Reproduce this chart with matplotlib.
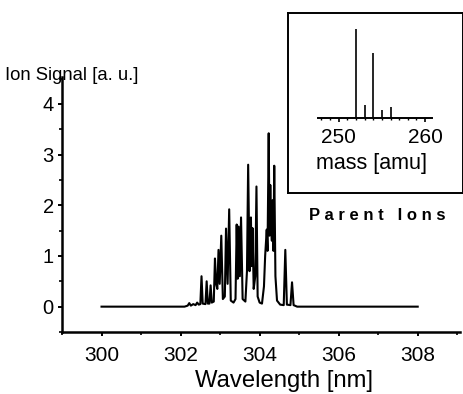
import matplotlib
matplotlib.use("Agg")
import matplotlib.pyplot as plt
from matplotlib.ticker import MultipleLocator

plt.rcParams['font.family'] = ['Liberation Sans', 'DejaVu Sans']

# Main spectrum: wavelength [nm] vs ion signal [a.u.]
wavelength = [300.00, 302.10, 302.18, 302.22, 302.26, 302.32, 302.38, 302.42, 302.46, 302.50, 302.53, 302.56,
              302.63, 302.66, 302.69, 302.73, 302.76, 302.79, 302.84, 302.87, 302.90, 302.93,
              302.96, 302.99, 303.03, 303.07, 303.12, 303.15, 303.19, 303.23, 303.27, 303.34,
              303.39, 303.42, 303.445, 303.47, 303.50, 303.53, 303.57, 303.64, 303.68, 303.71,
              303.745, 303.78, 303.80, 303.82, 303.85, 303.89, 303.92, 303.95, 304.00, 304.06,
              304.11, 304.14, 304.18, 304.20, 304.23, 304.25, 304.27, 304.29, 304.31, 304.33,
              304.35, 304.37, 304.40, 304.44, 304.52, 304.61, 304.65, 304.69, 304.78, 304.82,
              304.86, 304.95, 308.00]
signal = [0.00, 0.00, 0.02, 0.07, 0.02, 0.05, 0.03, 0.08, 0.04, 0.05, 0.60, 0.06,
          0.05, 0.50, 0.06, 0.06, 0.42, 0.08, 0.10, 0.95, 0.45, 0.35,
          1.12, 0.45, 1.40, 0.15, 0.20, 1.54, 0.45, 1.92, 0.12, 0.08,
          0.15, 1.62, 0.55, 1.58, 0.60, 1.76, 0.15, 0.10, 0.70, 2.80,
          0.70, 1.76, 0.80, 1.55, 0.35, 0.60, 2.37, 0.20, 0.08, 0.06,
          0.40, 1.00, 1.52, 1.10, 3.42, 1.40, 2.40, 1.60, 1.30, 2.10,
          1.10, 2.78, 0.60, 0.12, 0.04, 0.03, 1.12, 0.04, 0.03, 0.48,
          0.03, 0.00, 0.00]

# Inset: parent ion mass spectrum
mass = [252, 253, 254, 255, 256]
mass_intensity = [100, 15, 73, 9, 12]

fig = plt.figure(figsize=(4.64, 3.94), dpi=100)

ax = fig.add_axes([62/464, 1-332/394, (460-62)/464, (332-77)/394])
ax.plot(wavelength, signal, color='black', lw=1.5)
ax.set_xlim(299, 309.07)
ax.set_ylim(-0.5, 4.53)
ax.spines['top'].set_visible(False)
ax.spines['right'].set_visible(False)
ax.spines['left'].set_linewidth(1.8)
ax.spines['bottom'].set_linewidth(1.8)
ax.xaxis.set_minor_locator(MultipleLocator(1))
ax.yaxis.set_minor_locator(MultipleLocator(0.5))
ax.set_xticks([300, 302, 304, 306, 308])
ax.set_yticks([0, 1, 2, 3, 4])
ax.tick_params(which='major', direction='out', length=3, width=1.4)
ax.tick_params(axis='x', which='major', pad=7, labelsize=15)
ax.tick_params(axis='y', which='major', pad=3, labelsize=14.5)
ax.tick_params(which='minor', direction='out', length=2, width=1.2)
fig.text(284/464, 1-381/394, 'Wavelength [nm]', fontsize=17.2, ha='center', va='center')
fig.text(5/464, 1-75/394, 'Ion Signal [a. u.]', fontsize=13.3, ha='left', va='center')

# Inset frame
box = fig.add_axes([288/464, 1-193/394, (463-288)/464, (193-13)/394])
box.set_xticks([])
box.set_yticks([])
for s in box.spines.values():
    s.set_linewidth(1.4)

ins = fig.add_axes([318/464, 1-118/394, (432-318)/464, (118-25)/394])
ins.vlines(mass, 0, mass_intensity, color='black', lw=1.2)
ins.set_xlim(247.6, 260.8)
ins.set_ylim(0, 104.5)
for s in ['top', 'right', 'left']:
    ins.spines[s].set_visible(False)
ins.spines['bottom'].set_linewidth(1.4)
ins.set_yticks([])
ins.set_xticks([250, 260])
ins.xaxis.set_minor_locator(MultipleLocator(1))
ins.tick_params(which='major', direction='out', length=3, width=1.2, labelsize=15, pad=4)
ins.tick_params(which='minor', direction='out', length=1.5, width=1)
ins.patch.set_alpha(0)
fig.text(372/464, 1-164/394, 'mass [amu]', fontsize=15.5, ha='center', va='center')

fig.text(377/464, 1-215/394, 'P a r e n t   I o n s', fontsize=12, fontweight='bold',
         ha='center', va='center')

fig.savefig('out.png', dpi=100)
